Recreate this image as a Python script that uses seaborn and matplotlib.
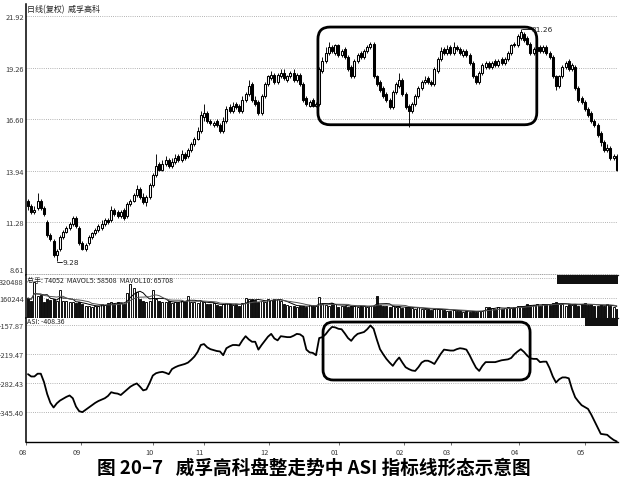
import numpy as np
import pandas as pd
import matplotlib
matplotlib.use("Agg")
import matplotlib.pyplot as plt
import seaborn as sns
from matplotlib.patches import FancyBboxPatch, Rectangle

sns.set_theme(style="white")
plt.rcParams['font.family'] = ['Noto Sans CJK SC', 'DejaVu Sans']
plt.rcParams['axes.unicode_minus'] = False

# ---------------- data ----------------
opens = [12.4, 12.1, 11.8, 12.0, 12.4, 12.0, 11.3, 10.6, 10.3, 9.6,
         9.9, 10.5, 10.8, 11.0, 11.2, 11.5, 11.0, 10.2, 9.9, 10.2,
         10.5, 10.7, 10.9, 11.0, 11.2, 11.4, 11.4, 11.9, 11.8, 11.6,
         11.9, 11.6, 12.2, 12.4, 12.7, 13.0, 12.6, 12.3, 12.6, 13.2,
         13.7, 14.3, 14.0, 14.3, 14.5, 14.2, 14.4, 14.7, 14.5, 14.8,
         14.7, 15.0, 15.3, 15.6, 16.0, 16.7, 16.9, 16.5, 16.3, 16.5,
         16.3, 16.0, 16.5, 17.2, 17.0, 17.4, 17.3, 17.0, 17.6, 17.9,
         18.4, 17.6, 17.5, 16.9, 17.8, 18.4, 18.7, 18.9, 18.5, 18.8,
         19.0, 18.6, 18.8, 19.0, 18.6, 18.9, 18.4, 17.7, 17.3, 17.6,
         17.3, 17.4, 19.1, 19.6, 20.0, 20.3, 20.0, 20.4, 19.9, 20.2,
         19.8, 19.3, 18.8, 19.6, 20.0, 19.8, 20.1, 20.3, 20.5, 18.8,
         18.5, 18.2, 17.9, 17.6, 17.2, 18.0, 18.3, 18.6, 17.9, 17.3,
         17.0, 17.4, 17.8, 18.2, 18.5, 18.7, 18.5, 18.4, 19.1, 19.7,
         20.2, 20.0, 20.3, 20.0, 20.3, 20.2, 19.9, 20.1, 19.9, 19.5,
         18.8, 18.5, 19.0, 19.3, 19.5, 19.3, 19.6, 19.4, 19.7, 19.5,
         19.7, 20.0, 20.5, 20.4, 20.8, 21.0, 20.8, 20.5, 20.0, 20.1,
         20.3, 20.1, 20.3, 20.0, 19.8, 18.8, 18.3, 18.8, 19.3, 19.6,
         19.2, 19.3, 18.2, 17.7, 17.5, 17.1, 16.9, 16.5, 16.3, 15.9,
         15.4, 15.0, 15.1, 14.6, 14.7]

closes = [12.1, 11.8, 11.9, 12.4, 12.0, 11.7, 10.6, 10.4, 9.6, 9.8,
          10.5, 10.8, 11.0, 11.2, 11.5, 11.1, 10.2, 9.9, 10.1, 10.5,
          10.7, 10.9, 11.1, 11.2, 11.4, 11.3, 11.9, 11.7, 11.6, 11.8,
          11.5, 12.2, 12.4, 12.7, 13.0, 12.6, 12.3, 12.6, 13.2, 13.7,
          14.2, 14.0, 14.3, 14.5, 14.2, 14.4, 14.6, 14.5, 14.8, 14.6,
          15.0, 15.3, 15.6, 16.0, 16.8, 16.9, 16.5, 16.4, 16.4, 16.3,
          16.0, 16.5, 17.1, 17.0, 17.3, 17.2, 17.0, 17.6, 17.9, 18.3,
          17.6, 17.4, 16.9, 17.8, 18.4, 18.8, 18.9, 18.5, 18.9, 19.0,
          18.7, 18.8, 19.0, 18.6, 18.9, 18.4, 17.6, 17.4, 17.5, 17.3,
          17.4, 19.2, 19.6, 20.0, 20.3, 20.1, 20.4, 19.9, 20.1, 19.8,
          19.2, 18.8, 19.6, 19.9, 19.8, 20.1, 20.3, 20.5, 18.8, 18.4,
          18.1, 17.8, 17.6, 17.2, 18.0, 18.4, 18.6, 17.9, 17.2, 17.0,
          17.4, 17.8, 18.2, 18.5, 18.6, 18.5, 18.4, 19.2, 19.7, 20.1,
          20.0, 20.2, 20.0, 20.3, 20.2, 20.0, 20.1, 19.9, 19.5, 18.8,
          18.5, 19.0, 19.4, 19.5, 19.3, 19.5, 19.4, 19.6, 19.5, 19.7,
          20.0, 20.4, 20.4, 20.9, 21.1, 20.7, 20.5, 20.0, 20.2, 20.3,
          20.1, 20.3, 20.0, 19.8, 18.8, 18.3, 18.8, 19.3, 19.5, 19.2,
          19.4, 18.2, 17.6, 17.5, 17.1, 16.8, 16.5, 16.3, 15.8, 15.4,
          15.0, 15.1, 14.6, 14.7, 14.0]

highs = [12.5, 12.2, 12.1, 12.8, 12.5, 12.1, 11.4, 10.7, 10.4, 9.9,
         10.6, 10.9, 11.1, 11.3, 11.6, 11.6, 11.1, 10.3, 10.2, 10.6,
         10.8, 11.0, 11.2, 11.4, 11.5, 11.5, 12.1, 12.0, 11.9, 11.9,
         12.0, 12.3, 12.5, 12.8, 13.2, 13.1, 12.8, 12.7, 13.3, 13.8,
         14.8, 14.4, 14.5, 14.7, 14.6, 14.6, 14.8, 14.8, 15.0, 14.9,
         15.1, 15.4, 15.7, 16.2, 17.0, 17.4, 17.0, 16.6, 16.5, 16.6,
         16.4, 16.7, 17.3, 17.4, 17.5, 17.5, 17.4, 17.8, 18.0, 18.6,
         18.5, 17.8, 17.6, 17.9, 18.5, 18.9, 19.1, 19.0, 19.0, 19.2,
         19.2, 18.9, 19.1, 19.2, 19.0, 19.0, 18.5, 17.8, 17.6, 17.7,
         17.5, 19.3, 19.8, 20.3, 20.6, 20.4, 20.5, 20.5, 20.2, 20.3,
         19.9, 19.4, 19.7, 20.0, 20.1, 20.2, 20.4, 20.6, 20.6, 18.9,
         18.6, 18.3, 18.0, 17.7, 18.1, 18.5, 19.0, 18.7, 18.0, 17.4,
         17.5, 17.9, 18.3, 18.6, 18.8, 18.8, 18.6, 19.3, 19.8, 20.3,
         20.3, 20.4, 20.4, 20.6, 20.4, 20.3, 20.2, 20.2, 20.0, 19.6,
         18.9, 19.1, 19.5, 19.6, 19.6, 19.6, 19.7, 19.7, 19.8, 19.8,
         20.1, 20.5, 20.6, 21.0, 21.26, 21.1, 20.9, 20.6, 20.3, 20.4,
         20.4, 20.4, 20.4, 20.1, 19.9, 18.9, 18.9, 19.4, 19.6, 19.7,
         19.5, 19.4, 18.3, 17.8, 17.6, 17.2, 17.0, 16.6, 16.4, 16.0,
         15.5, 15.3, 15.2, 14.8, 14.8]

lows = [11.9, 11.7, 11.7, 11.9, 11.9, 11.6, 10.5, 10.3, 9.5, 9.28,
        9.8, 10.4, 10.7, 10.9, 11.1, 11.0, 10.1, 9.85, 9.8, 10.1,
        10.4, 10.6, 10.8, 10.9, 11.1, 11.2, 11.3, 11.6, 11.5, 11.5,
        11.4, 11.5, 12.1, 12.3, 12.6, 12.5, 12.2, 12.1, 12.5, 13.1,
        13.6, 13.9, 13.9, 14.2, 14.1, 14.1, 14.3, 14.4, 14.4, 14.5,
        14.6, 14.9, 15.2, 15.5, 15.9, 16.5, 16.4, 16.3, 16.2, 16.2,
        15.9, 15.9, 16.4, 16.9, 16.9, 17.1, 16.9, 16.9, 17.5, 17.8,
        17.5, 17.3, 16.8, 16.8, 17.7, 18.3, 18.6, 18.4, 18.4, 18.7,
        18.6, 18.5, 18.7, 18.5, 18.5, 18.3, 17.5, 17.3, 17.2, 17.2,
        17.2, 17.3, 19.0, 19.5, 19.9, 20.0, 19.9, 19.8, 19.8, 19.7,
        19.1, 18.7, 18.7, 19.5, 19.7, 19.7, 20.0, 20.2, 18.7, 18.3,
        18.0, 17.7, 17.5, 17.1, 17.1, 17.9, 18.2, 17.8, 17.1, 16.2,
        16.9, 17.3, 17.7, 18.1, 18.4, 18.4, 18.3, 18.3, 19.0, 19.6,
        19.9, 19.9, 19.9, 19.9, 20.1, 19.9, 19.8, 19.8, 19.4, 18.7,
        18.4, 18.4, 18.9, 19.2, 19.2, 19.2, 19.3, 19.3, 19.4, 19.4,
        19.6, 19.9, 20.3, 20.3, 20.7, 20.6, 20.4, 19.9, 19.9, 20.0,
        20.0, 20.0, 19.9, 19.7, 18.7, 18.1, 18.2, 18.7, 19.2, 19.1,
        19.1, 18.1, 17.5, 17.4, 17.0, 16.7, 16.4, 16.2, 15.7, 15.2,
        14.9, 14.9, 14.5, 14.5, 13.9]

volumes_k = [160, 140, 290, 180, 185, 130, 150, 145, 155, 140,
             225, 135, 140, 125, 130, 120, 125, 110, 100, 95,
             90, 100, 95, 110, 105, 120, 130, 115, 125, 120,
             110, 200, 270, 240, 210, 150, 135, 130, 140, 225,
             150, 140, 130, 125, 135, 120, 130, 125, 140, 135,
             180, 130, 125, 120, 140, 130, 115, 110, 120, 105,
             100, 110, 120, 115, 105, 110, 100, 120, 160, 150,
             155, 145, 130, 140, 125, 150, 145, 155, 150, 140,
             110, 105, 100, 95, 90, 100, 95, 90, 105, 100,
             95, 168, 110, 105, 95, 120, 115, 90, 100, 95,
             90, 100, 95, 90, 100, 95, 90, 95, 100, 176,
             105, 95, 100, 90, 95, 85, 90, 80, 85, 90,
             80, 75, 85, 70, 75, 70, 65, 70, 75, 70,
             65, 60, 55, 65, 60, 55, 50, 55, 50, 55,
             50, 55, 60, 90, 85, 80, 75, 90, 70, 80,
             85, 80, 90, 95, 100, 95, 110, 100, 105, 110,
             100, 115, 110, 105, 120, 130, 110, 115, 100, 110,
             105, 115, 100, 110, 120, 105, 110, 100, 95, 105,
             100, 110, 95, 85, 74]

asi = [-263, -268, -268, -262, -262, -280, -306, -325, -335, -326,
       -320, -316, -312, -309, -315, -333, -343, -345, -340, -335,
       -330, -325, -321, -318, -315, -310, -302, -304, -305, -308,
       -302, -296, -290, -286, -283, -290, -298, -296, -282, -266,
       -261, -259, -258, -260, -263, -252, -248, -245, -243, -241,
       -238, -232, -225, -215, -200, -198, -205, -209, -211, -213,
       -214, -222, -207, -203, -200, -200, -201, -190, -181, -188,
       -193, -193, -210, -200, -191, -182, -176, -186, -190, -181,
       -182, -183, -183, -180, -176, -177, -182, -210, -216, -217,
       -222, -185, -183, -177, -168, -161, -162, -165, -166, -175,
       -185, -191, -182, -176, -174, -172, -166, -157.87, -165, -188,
       -209, -220, -230, -238, -245, -235, -227, -238, -248, -252,
       -255, -256, -248, -238, -234, -234, -237, -241, -230, -219,
       -210, -211, -212, -212, -209, -207, -208, -210, -222, -236,
       -249, -256, -245, -237, -237, -237, -237, -235, -233, -232,
       -231, -228, -220, -214, -209, -215, -223, -229, -230, -230,
       -237, -236, -236, -250, -268, -281, -274, -270, -270, -272,
       -295, -313, -322, -330, -334, -338, -350, -364, -378, -392,
       -393, -394, -400, -405, -408.36]

price_ticks = [8.61, 11.28, 13.94, 16.60, 19.26, 21.92]
price_labels = ["8.61", "11.28", "13.94", "16.60", "19.26", "21.92"]
vol_ticks = [160244, 320488]
vol_labels = ["160244", "320488"]
asi_ticks = [-345.40, -282.43, -219.47, -157.87]
asi_labels = ["-345.40", "-282.43", "-219.47", "-157.87"]
month_ticks = [-0.5, 16.6, 39.1, 55.0, 75.3, 97.2, 117.5, 132.2, 153.4, 174.1]
month_labels = ["08", "09", "10", "11", "12", "01", "02", "03", "04", "05"]

title_text = "日线(复权)  威孚高科"
vol_text = "总手: 74052  MAVOL5: 58508  MAVOL10: 65708"
asi_text = "ASI: -408.36"
caption = "图 20–7   威孚高科盘整走势中 ASI 指标线形态示意图"

n = len(closes)
assert all(len(a) == n for a in (opens, highs, lows, volumes_k, asi))

df = pd.DataFrame({
    "day": np.arange(n),
    "open": opens, "close": closes, "high": highs, "low": lows,
    "volume": np.array(volumes_k) * 1000.0,
    "asi": asi,
})
df["up"] = df["close"] >= df["open"]
df["ma5"] = df["volume"].rolling(5, min_periods=1).mean()
df["ma10"] = df["volume"].rolling(10, min_periods=1).mean()

# ---------------- layout ----------------
W, H = 620, 489
fig = plt.figure(figsize=(W / 100, H / 100), dpi=100)
fig.patch.set_facecolor("white")


def frac(left, top, right, bottom):
    return [left / W, 1 - bottom / H, (right - left) / W, (bottom - top) / H]


ax_p = fig.add_axes(frac(26, 5, 618, 276))
ax_v = fig.add_axes(frac(26, 276, 618, 319))
ax_a = fig.add_axes(frac(26, 319, 618, 443))

xlim = (-0.625, 184.375)
grid_kw = dict(color="#9a9a9a", lw=0.6, ls=(0, (1, 1.6)))
tick_color = "#3a3a3a"

for ax in (ax_p, ax_v, ax_a):
    ax.set_facecolor("white")
    ax.set_xlim(*xlim)
    for s in ("top", "right", "bottom"):
        ax.spines[s].set_visible(False)
    ax.spines["left"].set_visible(True)
    ax.spines["left"].set_color("black")
    ax.spines["left"].set_linewidth(1.1)
    ax.tick_params(axis="y", length=0, pad=1.5, labelsize=5.3, labelcolor=tick_color)
    ax.grid(False)

# ---- price candles ----
ax_p.set_ylim(8.558, 22.539)
ax_p.vlines(df["day"], df["low"], df["high"], color="black", lw=0.65, zorder=3)
body_bottom = np.minimum(df["open"], df["close"])
body_h = np.maximum(np.abs(df["close"] - df["open"]), 0.05)
face = np.where(df["up"], "white", "black")
ax_p.bar(df["day"], body_h, bottom=body_bottom, width=0.64, color=face,
         edgecolor="black", linewidth=0.75, zorder=4)
ax_p.set_yticks(price_ticks)
ax_p.set_yticklabels(price_labels)
ax_p.yaxis.grid(True, **grid_kw)
ax_p.set_xticks([])
ax_p.spines["bottom"].set_visible(True)
ax_p.spines["bottom"].set_color("#222222")
ax_p.spines["bottom"].set_linewidth(0.9)
# lift the bottom price label so it does not collide with the volume scale
ax_p.get_yticklabels()[0].set_va("bottom")

# high / low markers
i_hi = int(np.argmax(highs))
i_lo = int(np.argmin(lows))
ax_p.plot([i_hi + 0.3, i_hi + 3.2], [highs[i_hi], highs[i_hi]], color="black", lw=0.6, zorder=7)
ax_p.text(i_hi + 3.4, highs[i_hi], f"{highs[i_hi]:.2f}", fontsize=5.3,
          va="center", ha="left", color="#222222", family="DejaVu Sans", zorder=7)
ax_p.plot([i_lo, i_lo + 1.6], [lows[i_lo] - 0.05, lows[i_lo] - 0.05], color="black", lw=0.6)
ax_p.text(i_lo + 1.9, lows[i_lo] - 0.05, f"{lows[i_lo]:.2f}", fontsize=5.3,
          va="center", ha="left", color="#222222", family="DejaVu Sans")

# ---- volume ----
ax_v.set_ylim(0, 344500)
vface = np.where(df["up"], "white", "#111111")
ax_v.bar(df["day"], df["volume"], width=0.66, color=vface, edgecolor="#111111",
         linewidth=0.7, zorder=3)
sns.lineplot(data=df, x="day", y="ma5", ax=ax_v, color="black", lw=0.7, zorder=4)
sns.lineplot(data=df, x="day", y="ma10", ax=ax_v, color="#555555", lw=0.7, zorder=4)
ax_v.set_yticks(vol_ticks)
ax_v.set_yticklabels(vol_labels)
ax_v.get_yticklabels()[1].set_va("top")
ax_v.yaxis.grid(True, **grid_kw)
ax_v.set_xticks([])
ax_v.set_xlabel("")
ax_v.set_ylabel("")
ax_v.set_xlim(*xlim)
ax_v.spines["bottom"].set_visible(True)
ax_v.spines["bottom"].set_color("#222222")
ax_v.spines["bottom"].set_linewidth(0.9)

# ---- ASI ----
ax_a.set_ylim(-409.5, -141.7)
sns.lineplot(data=df, x="day", y="asi", ax=ax_a, color="black", lw=1.3, zorder=4)
ax_a.set_yticks(asi_ticks)
ax_a.set_yticklabels(asi_labels)
ax_a.yaxis.grid(True, **grid_kw)
ax_a.set_xlabel("")
ax_a.set_ylabel("")
ax_a.set_xlim(*xlim)
ax_a.spines["bottom"].set_visible(True)
ax_a.spines["bottom"].set_color("black")
ax_a.spines["bottom"].set_linewidth(1.0)
ax_a.set_xticks(month_ticks)
ax_a.set_xticklabels(month_labels, ha="right")
ax_a.tick_params(axis="x", length=2.5, width=0.6, color="#555555", pad=1.5,
                 labelsize=5.3, labelcolor=tick_color, direction="out", bottom=True)

# ---- rounded highlight boxes (data coordinates) ----
box_p = FancyBboxPatch((90.6, 16.31), 159.0 - 90.6, 21.35 - 16.31,
                       boxstyle="round,pad=0,rounding_size=3.8",
                       mutation_aspect=0.165, fill=False, ec="black", lw=2.0,
                       zorder=6, clip_on=False)
ax_p.add_patch(box_p)
box_a = FancyBboxPatch((92.2, -275.6), 156.9 - 92.2, -150.4 + 275.6,
                       boxstyle="round,pad=0,rounding_size=3.2",
                       mutation_aspect=6.9, fill=False, ec="black", lw=2.0,
                       zorder=6, clip_on=False)
ax_a.add_patch(box_a)

# ---- header texts ----
fig.text(27 / W, 1 - 10 / H, title_text, fontsize=5.8, color="#222222", va="center", ha="left")
fig.text(27 / W, 1 - 280.5 / H, vol_text, fontsize=5.0, color="#222222", va="center", ha="left")
fig.text(27 / W, 1 - 322.5 / H, asi_text, fontsize=5.0, color="#222222", va="center", ha="left")

# blacked-out value boxes at the right of panel headers
fig.add_artist(Rectangle((557 / W, 1 - 285 / H), 61 / W, 9 / H, transform=fig.transFigure,
                         facecolor="#111111", edgecolor="none"))
fig.add_artist(Rectangle((585 / W, 1 - 327 / H), 33 / W, 8 / H, transform=fig.transFigure,
                         facecolor="#111111", edgecolor="none"))

# ---- caption ----
fig.text(313.5 / W, 1 - 468 / H, caption, fontsize=13.4, fontweight="bold",
         ha="center", va="center", color="black")

fig.savefig("out.png", dpi=100, facecolor="white")
